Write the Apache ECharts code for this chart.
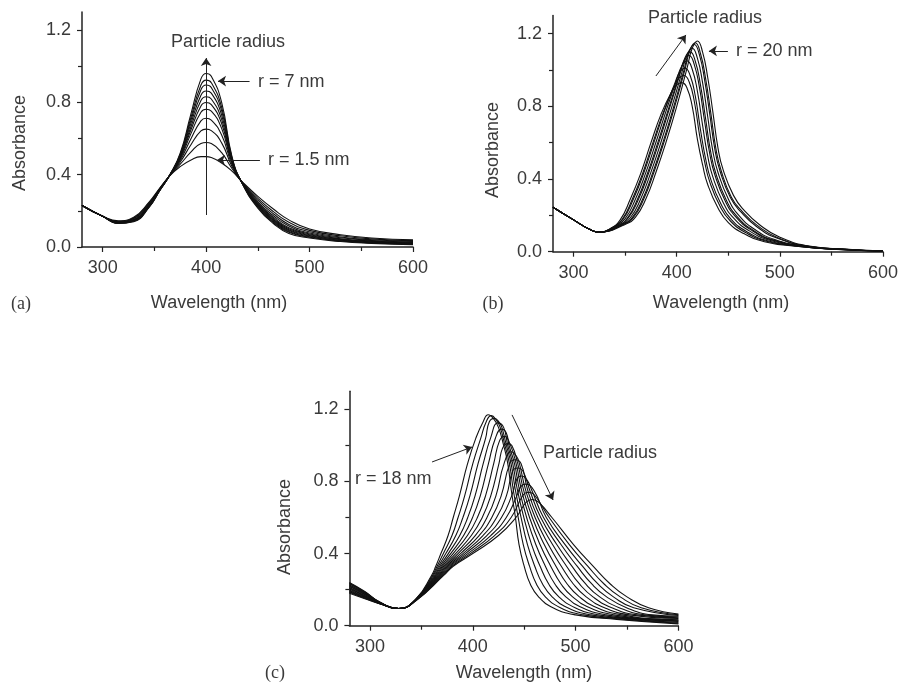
<!DOCTYPE html>
<html>
<head>
<meta charset="utf-8">
<script src="https://cdn.jsdelivr.net/npm/echarts@6/dist/echarts.min.js"></script>
<style>
html,body{margin:0;padding:0;background:#fff;}
#container{width:902px;height:683px;}
</style>
</head>
<body>
<div id="container"></div>
<script>
// ---- panel (a): r = 1.5 nm ... 7 nm, shared wavelength grid
var aWave = [280, 300, 315, 330, 345, 355, 365, 375, 385, 395, 400, 405, 415, 425, 435, 450, 465, 480, 500, 530, 560, 600];
var aAbs = [
	[.23,.17,.145,.165,.25,.325,.395,.445,.48,.50,.50,.495,.465,.42,.36,.28,.21,.15,.10,.068,.05,.04],
	[.23,.17,.142,.161,.245,.322,.396,.458,.523,.573,.578,.572,.522,.434,.358,.269,.196,.137,.092,.062,.045,.035],
	[.23,.17,.14,.157,.24,.32,.397,.47,.563,.642,.652,.644,.576,.446,.357,.259,.184,.125,.084,.055,.04,.031],
	[.23,.17,.138,.154,.236,.318,.397,.48,.595,.698,.712,.702,.619,.457,.355,.25,.173,.116,.077,.051,.036,.028],
	[.23,.17,.136,.151,.233,.316,.398,.488,.623,.745,.762,.752,.656,.466,.354,.243,.164,.107,.072,.046,.033,.025],
	[.23,.17,.135,.149,.231,.315,.398,.494,.643,.78,.799,.788,.683,.472,.354,.238,.158,.101,.068,.043,.031,.022],
	[.23,.17,.134,.147,.228,.314,.399,.499,.66,.81,.831,.819,.706,.478,.353,.233,.152,.096,.064,.041,.028,.021],
	[.23,.17,.133,.145,.226,.313,.399,.504,.678,.84,.863,.851,.73,.483,.352,.229,.147,.091,.061,.038,.026,.019],
	[.23,.17,.132,.144,.224,.312,.399,.51,.695,.87,.896,.882,.753,.489,.351,.224,.141,.086,.057,.035,.024,.017],
	[.23,.17,.131,.142,.222,.311,.4,.514,.71,.896,.923,.909,.773,.494,.351,.22,.136,.081,.054,.033,.022,.015],
	[.23,.17,.13,.14,.22,.31,.40,.52,.73,.93,.96,.945,.80,.50,.35,.215,.13,.075,.05,.03,.02,.013]
];

// ---- panel (b): up to r = 20 nm
var bWave = [
	[280,300,315,325,335,345,355,365,375,385,395,400,405,410,415,420,425,430,440,450,465,485,515,555,600],
	[280,300,315,325,337,347,357,367,377,387,397,402,407,412,417,422,427,432,442,452,467,487,517,557,600],
	[280,300,315,325,338,348,358,368,378,388,398,403,408,413,418,423,428,433,443,453,468,488,518,558,600],
	[280,300,315,325,340,350,360,370,380,390,400,405,410,415,420,425,430,435,445,455,470,490,520,560,600],
	[280,300,315,325,342,352,362,372,382,392,402,407,412,417,422,427,432,437,447,457,472,492,522,562,600],
	[280,300,315,325,343,353,363,373,383,393,403,408,413,418,423,428,433,438,448,458,473,493,523,563,600],
	[280,300,315,325,345,355,365,375,385,395,405,410,415,420,425,430,435,440,450,460,475,495,525,565,600],
	[280,300,315,325,347,357,367,377,387,397,407,412,417,422,427,432,437,442,452,462,477,497,527,567,600],
	[280,300,315,325,348,358,368,378,388,398,408,413,418,423,428,433,438,443,453,463,478,498,528,568,600],
	[280,300,315,325,350,360,370,380,390,400,410,415,420,425,430,435,440,445,455,465,480,500,530,570,600]
];
var bAbs = [
	[.245,.175,.125,.108,.125,.174,.29,.43,.60,.76,.88,.92,.93,.90,.80,.62,.48,.37,.24,.16,.10,.055,.03,.012,.004],
	[.245,.175,.125,.108,.129,.177,.29,.432,.602,.767,.903,.955,.97,.935,.828,.646,.496,.384,.25,.169,.105,.058,.03,.012,.004],
	[.245,.175,.125,.108,.134,.18,.29,.433,.603,.774,.925,.99,1.01,.97,.856,.672,.511,.398,.261,.177,.11,.06,.03,.012,.004],
	[.245,.175,.125,.108,.138,.182,.29,.435,.605,.781,.948,1.024,1.05,1.004,.884,.698,.527,.412,.271,.186,.116,.063,.03,.012,.004],
	[.245,.175,.125,.108,.141,.184,.29,.437,.607,.786,.965,1.05,1.08,1.03,.904,.718,.539,.422,.279,.193,.12,.065,.03,.012,.004],
	[.245,.175,.125,.108,.143,.186,.29,.437,.607,.79,.976,1.068,1.10,1.048,.918,.731,.547,.429,.284,.197,.122,.066,.03,.012,.004],
	[.245,.175,.125,.108,.146,.187,.29,.438,.608,.793,.987,1.085,1.12,1.065,.932,.744,.554,.436,.29,.201,.125,.067,.03,.012,.004],
	[.245,.175,.125,.108,.148,.189,.29,.439,.609,.797,.999,1.103,1.14,1.083,.946,.757,.562,.443,.298,.22,.14,.075,.03,.012,.004],
	[.245,.175,.125,.108,.149,.189,.29,.44,.61,.798,1.004,1.111,1.15,1.091,.953,.764,.566,.447,.30,.225,.145,.077,.03,.012,.004],
	[.245,.175,.125,.108,.15,.19,.29,.44,.61,.80,1.01,1.12,1.16,1.10,.96,.77,.57,.45,.31,.23,.15,.08,.03,.012,.004]
];

// ---- panel (c): from r = 18 nm upwards
var cWave = [
	[280,295,310,328,345,360,364,369,376,381,387,395,403,410,415,420,425,430,434,437.5,441.5,445,450,456,464,478,500,540,600],
	[280,295,310,328,345,360.9,365.3,371.4,379.8,385.7,392.1,400.1,407.8,413,418,423,426.7,431.3,435.6,439.5,444.2,449.1,455.2,462,470.6,485.2,507.5,547.7,600],
	[280,295,310,328,345,361.8,366.6,373.8,383.5,390.4,397.2,405.2,412.5,416,421,426,428.3,432.7,437.2,441.5,447,453.2,460.3,468,477.2,492.3,514.9,555.4,600],
	[280,295,310,328,345,362.8,367.9,376.2,387.3,395.1,402.2,410.2,417.3,424.5,430,434,438.8,443.5,449.7,457.2,465.5,474,483.8,499.5,522.4,563.1,600],
	[280,295,310,328,345,363.7,369.2,378.5,391.1,399.8,407.3,415.3,422,428,432.5,435.3,440.5,445.5,452.4,461.3,470.6,480,490.5,506.6,529.8,570.8,600],
	[280,295,310,328,345,364.6,370.5,380.9,394.8,404.5,412.4,420.4,426,431,436.7,442.1,447.5,455.2,465.4,475.8,486,497.1,513.8,537.3,578.5,600],
	[280,295,310,328,345,365.5,371.8,383.3,398.6,409.2,417.5,425.5,429,434,438,443.7,449.5,457.9,469.5,480.9,492,503.7,520.9,544.8,586.2,600],
	[280,295,310,328,345,366.5,373.2,385.7,402.4,413.8,422.5,430.5,437.5,442.5,445.3,451.5,460.6,473.5,486.1,498,510.3,528.1,552.2,600],
	[280,295,310,328,345,367.4,374.5,388.1,406.2,418.5,427.6,436,441,446.9,453.5,463.3,477.6,491.2,504,516.9,535.2,559.7,600],
	[280,295,310,328,345,368.3,375.8,390.5,409.9,423.2,432.7,439,444,449,455.5,466.1,481.7,496.4,510,523.5,542.4,567.1,600],
	[280,295,310,328,345,369.2,377.1,392.8,413.7,427.9,437.8,443,447.5,452.5,457.5,468.8,485.8,501.5,516,530.2,549.5,574.6,600],
	[280,295,310,328,345,370.2,378.4,395.2,417.5,432.6,442.8,446.5,451,459.5,471.5,489.8,506.7,522,536.8,556.5,600],
	[280,295,310,328,345,371.1,379.7,397.6,421.2,437.3,449,454.5,460,474.3,493.9,511.8,528,543.4,563.8,600],
	[280,295,310,328,345,372,381,400,425,442,452,458,464,477,498,517,534,550,571,600]
];
var cAbs = [
	[.18,.15,.12,.095,.15,.28,.33,.40,.50,.60,.72,.90,1.04,1.13,1.17,1.15,1.10,1.00,.90,.75,.60,.45,.33,.23,.16,.10,.06,.035,.01],
	[.185,.153,.121,.095,.149,.28,.33,.40,.50,.60,.72,.90,1.04,1.13,1.165,1.14,1.10,1.00,.90,.75,.60,.45,.33,.23,.16,.10,.06,.035,.014],
	[.189,.156,.122,.095,.148,.28,.33,.40,.50,.60,.72,.90,1.04,1.13,1.15,1.125,1.10,1.00,.90,.75,.60,.45,.33,.23,.16,.10,.06,.035,.018],
	[.194,.159,.122,.095,.148,.28,.33,.40,.50,.60,.72,.90,1.04,1.125,1.10,1.00,.90,.75,.60,.45,.33,.23,.16,.10,.06,.035,.023],
	[.198,.162,.123,.095,.147,.28,.33,.40,.50,.60,.72,.90,1.04,1.09,1.07,1.00,.90,.75,.60,.45,.33,.23,.16,.10,.06,.035,.027],
	[.203,.165,.124,.095,.146,.28,.33,.40,.50,.60,.72,.90,1.025,1.05,1.00,.90,.75,.60,.45,.33,.23,.16,.10,.06,.035,.031],
	[.208,.168,.125,.095,.145,.28,.33,.40,.50,.60,.72,.90,.985,1.01,1.00,.90,.75,.60,.45,.33,.23,.16,.10,.06,.035,.033],
	[.212,.172,.125,.095,.145,.28,.33,.40,.50,.60,.72,.90,.965,.94,.90,.75,.60,.45,.33,.23,.16,.10,.06,.04],
	[.217,.175,.126,.095,.144,.28,.33,.40,.50,.60,.72,.90,.92,.90,.75,.60,.45,.33,.23,.16,.10,.06,.044],
	[.222,.178,.127,.095,.143,.28,.33,.40,.50,.60,.72,.86,.875,.855,.75,.60,.45,.33,.23,.16,.10,.06,.048],
	[.226,.181,.128,.095,.142,.28,.33,.40,.50,.60,.72,.815,.83,.81,.75,.60,.45,.33,.23,.16,.10,.06,.052],
	[.231,.184,.128,.095,.142,.28,.33,.40,.50,.60,.72,.77,.785,.75,.60,.45,.33,.23,.16,.10,.057],
	[.235,.187,.129,.095,.141,.28,.33,.40,.50,.60,.725,.74,.725,.60,.45,.33,.23,.16,.10,.061],
	[.24,.19,.13,.095,.14,.28,.33,.40,.50,.60,.685,.70,.685,.60,.45,.33,.23,.16,.10,.065]
];

var xTicks = [300, 600];   // labelled wavelength range
var yTicks = [0, 1.2];     // labelled absorbance range

var SANS = '"Liberation Sans", Arial, sans-serif';
var SERIF = '"Liberation Serif", "Times New Roman", serif';
var INK = '#222';
var TXT = '#3a3a3a';

var dom = document.getElementById("container");
var myChart = echarts.init(dom);

// main grid (data) + tick grid (labelled 300..600 / 0..1.2) for each panel
var grids = [
	{left: 82, top: 12, width: 331, height: 235},
	{left: 102.7, top: 30, width: 310.3, height: 217},
	{left: 553, top: 15.5, width: 330, height: 236.2},
	{left: 573.6, top: 33.7, width: 309.4, height: 218},
	{left: 349.4, top: 391.3, width: 329, height: 234.4},
	{left: 370, top: 409.3, width: 308.4, height: 216.4}
];
var yOffsets = [20.7, 20.6, 20.6];

var xAxes = [], yAxes = [];
for (var p = 0; p < 3; p++) {
	xAxes.push({
		type: 'value', gridIndex: p * 2, min: 280, max: 600,
		axisLine: {show: true, lineStyle: {color: INK, width: 1.5}},
		axisTick: {show: false}, axisLabel: {show: false}, splitLine: {show: false}
	});
	yAxes.push({
		type: 'value', gridIndex: p * 2, min: 0, max: 1.3,
		axisLine: {show: true, lineStyle: {color: INK, width: 1.5}},
		axisTick: {show: false}, axisLabel: {show: false}, splitLine: {show: false}
	});
	xAxes.push({
		type: 'value', gridIndex: p * 2 + 1, min: xTicks[0], max: xTicks[1], interval: 100,
		axisLine: {show: false},
		axisTick: {show: true, length: 5, lineStyle: {color: INK, width: 1.2}},
		minorTick: {show: true, splitNumber: 2, length: 4, lineStyle: {color: INK, width: 1.2}},
		axisLabel: {fontSize: 18, color: TXT, margin: 12, fontFamily: SANS},
		splitLine: {show: false}, minorSplitLine: {show: false}
	});
	yAxes.push({
		type: 'value', gridIndex: p * 2 + 1, min: yTicks[0], max: yTicks[1], interval: 0.4,
		offset: yOffsets[p],
		axisLine: {show: false},
		axisTick: {show: true, length: 5, lineStyle: {color: INK, width: 1.2}},
		minorTick: {show: true, splitNumber: 2, length: 4, lineStyle: {color: INK, width: 1.2}},
		axisLabel: {fontSize: 18, color: TXT, margin: 11, fontFamily: SANS,
			formatter: function (v) { return v.toFixed(1); }},
		splitLine: {show: false}, minorSplitLine: {show: false}
	});
}

function arrow(x1, y1, x2, y2) {
	return [{coord: [x1, y1]}, {coord: [x2, y2]}];
}

var markLines = [
	[arrow(400, 0.177, 400, 1.045), arrow(442, 0.918, 411.5, 0.918), arrow(452, 0.481, 410.5, 0.481)],
	[arrow(379.8, 0.967, 408.9, 1.193), arrow(449.6, 1.105, 431.2, 1.105)],
	[arrow(438.2, 1.169, 478.1, 0.697), arrow(360.4, 0.908, 399.3, 0.991)]
];

var series = [];
function addPanel(p, waves, abs, shared) {
	for (var i = 0; i < abs.length; i++) {
		var w = shared ? waves : waves[i];
		var data = [];
		for (var j = 0; j < w.length; j++) data.push([w[j], abs[i][j]]);
		var s = {
			type: 'line', xAxisIndex: p * 2, yAxisIndex: p * 2, data: data,
			showSymbol: false, smooth: 0.5, silent: true,
			lineStyle: {color: '#111', width: 1.1}, z: 2
		};
		if (i === 0) {
			s.markLine = {
				silent: true, symbol: ['none', 'arrow'], symbolSize: 8,
				label: {show: false},
				lineStyle: {color: INK, width: 1, type: 'solid'},
				data: markLines[p]
			};
		}
		series.push(s);
	}
}
addPanel(0, aWave, aAbs, true);
addPanel(1, bWave, bAbs, false);
addPanel(2, cWave, cAbs, false);

function txt(t, x, y, opts) {
	opts = opts || {};
	return {
		type: 'text', x: x, y: y, rotation: opts.rot || 0, silent: true,
		style: {
			text: t, fill: TXT, fontSize: opts.size || 18, fontFamily: opts.font || SANS,
			align: opts.align || 'center', verticalAlign: 'middle',
			textAlign: opts.align || 'center', textVerticalAlign: 'middle'
		}
	};
}

var graphics = [
	txt('Particle radius', 228, 42),
	txt('r = 7 nm', 258, 82, {align: 'left'}),
	txt('r = 1.5 nm', 268, 160, {align: 'left'}),
	txt('Absorbance', 20, 143, {rot: Math.PI / 2}),
	txt('Wavelength (nm)', 219, 303),
	txt('(a)', 21, 304, {font: SERIF}),

	txt('Particle radius', 705, 18),
	txt('r = 20 nm', 736, 51, {align: 'left'}),
	txt('Absorbance', 493, 150, {rot: Math.PI / 2}),
	txt('Wavelength (nm)', 721, 303),
	txt('(b)', 493, 304, {font: SERIF}),

	txt('Particle radius', 600, 453),
	txt('r = 18 nm', 355, 479, {align: 'left'}),
	txt('Absorbance', 285, 527, {rot: Math.PI / 2}),
	txt('Wavelength (nm)', 524, 673),
	txt('(c)', 275, 673, {font: SERIF})
];

var option = {
	backgroundColor: '#fff',
	animation: false,
	grid: grids,
	xAxis: xAxes,
	yAxis: yAxes,
	series: series,
	graphic: graphics
};
myChart.setOption(option, true);
</script>
</body>
</html>
